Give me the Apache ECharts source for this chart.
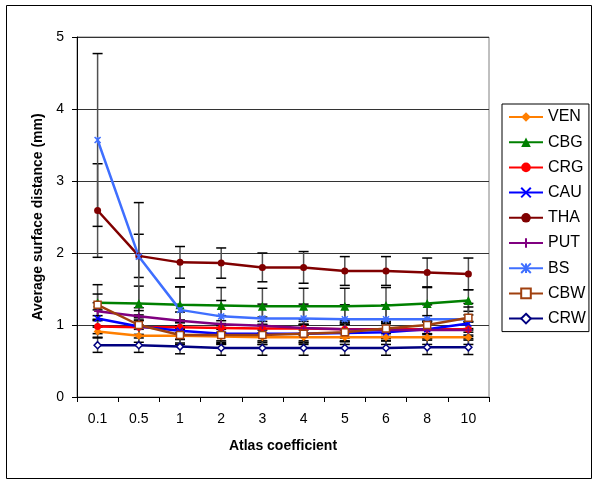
<!DOCTYPE html>
<html><head><meta charset="utf-8">
<script src="https://cdn.jsdelivr.net/npm/echarts@6/dist/echarts.min.js"></script>
<style>html,body{margin:0;padding:0;background:#fff}#c{width:601px;height:488px}</style>
</head><body><div id="c"></div>
<script>
const categories = ['0.1','0.5','1','2','3','4','5','6','8','10'];
const names = ['VEN','CBG','CRG','CAU','THA','PUT','BS','CBW','CRW'];
const VEN = [0.91,0.85,0.85,0.84,0.83,0.83,0.83,0.83,0.83,0.83];
const CBG = [1.31,1.30,1.28,1.27,1.26,1.26,1.26,1.27,1.30,1.34];
const CRG = [0.98,0.97,0.97,0.96,0.95,0.95,0.94,0.94,0.94,0.94];
const CAU = [1.09,0.98,0.92,0.88,0.88,0.88,0.89,0.90,0.94,1.02];
const THA = [2.59,1.96,1.87,1.86,1.80,1.80,1.75,1.75,1.73,1.71];
const PUT = [1.19,1.12,1.06,1.01,0.99,0.96,0.94,0.93,0.93,0.93];
const BS  = [3.57,1.95,1.21,1.12,1.09,1.09,1.08,1.08,1.08,1.08];
const CBW = [1.28,1.00,0.86,0.86,0.86,0.88,0.90,0.95,1.00,1.10];
const CRW = [0.72,0.72,0.70,0.68,0.68,0.68,0.68,0.68,0.69,0.69];
// standard deviations (error bars)
const VEN_sd = [0.08,0.09,0.10,0.10,0.10,0.10,0.10,0.10,0.10,0.10];
const CBG_sd = [0.25,0.24,0.25,0.25,0.25,0.25,0.25,0.25,0.22,0.15];
const CRG_sd = [0.10,0.10,0.10,0.10,0.10,0.10,0.10,0.10,0.10,0.10];
const CAU_sd = [0.12,0.12,0.12,0.12,0.12,0.12,0.12,0.12,0.12,0.12];
const THA_sd = [0.65,0.30,0.22,0.21,0.20,0.22,0.20,0.20,0.20,0.22];
const PUT_sd = [0.12,0.12,0.12,0.12,0.12,0.12,0.12,0.12,0.12,0.12];
const BS_sd  = [1.20,0.75,0.32,0.22,0.20,0.20,0.20,0.20,0.20,0.22];
const CBW_sd = [0.15,0.14,0.13,0.13,0.13,0.13,0.13,0.13,0.13,0.15];
const CRW_sd = [0.10,0.10,0.10,0.10,0.10,0.10,0.10,0.10,0.10,0.10];
const yTicks = [0,1,2,3,4,5];

const values = {VEN,CBG,CRG,CAU,THA,PUT,BS,CBW,CRW};
const sds = {VEN:VEN_sd,CBG:CBG_sd,CRG:CRG_sd,CAU:CAU_sd,THA:THA_sd,PUT:PUT_sd,BS:BS_sd,CBW:CBW_sd,CRW:CRW_sd};
const styles = {
  VEN:{color:'#FF7F00',symbol:'diamond',size:8,hollow:false},
  CBG:{color:'#008000',symbol:'triangle',size:9,hollow:false},
  CRG:{color:'#FF0000',symbol:'circle',size:7,hollow:false},
  CAU:{color:'#0000FF',symbol:'path://M0,0L10,10M10,0L0,10',size:6,hollow:'stroke'},
  THA:{color:'#800000',symbol:'circle',size:7,hollow:false},
  PUT:{color:'#800080',symbol:'path://M5,0L5,10M0,5L10,5',size:7,hollow:'stroke'},
  BS:{color:'#3F6FFF',symbol:'path://M0,0L10,10M10,0L0,10M5,0L5,10',size:6,hollow:'stroke'},
  CBW:{color:'#A0400F',symbol:'rect',size:7,hollow:true},
  CRW:{color:'#000080',symbol:'diamond',size:7,hollow:true}
};

const series = [];
names.forEach(n => {
  const errData = values[n].map((v,i)=>[i, v - sds[n][i], v + sds[n][i]]);
  series.push({
    type:'custom', name:n+'_err', data:errData, z:3, silent:true,
    renderItem:(params, api)=>{
      const x = api.coord([api.value(0), 0])[0];
      const lo = api.coord([api.value(0), api.value(1)])[1];
      const hi = api.coord([api.value(0), api.value(2)])[1];
      const w = 5;
      return {type:'group', children:[
        {type:'line', shape:{x1:x,y1:lo,x2:x,y2:hi}, style:{stroke:'#505050',lineWidth:1.5}},
        {type:'line', shape:{x1:x-w,y1:lo,x2:x+w,y2:lo}, style:{stroke:'#000',lineWidth:1.5}},
        {type:'line', shape:{x1:x-w,y1:hi,x2:x+w,y2:hi}, style:{stroke:'#000',lineWidth:1.5}}
      ]};
    }
  });
});
names.forEach(n => {
  const s = styles[n];
  let itemStyle;
  if (s.hollow === true) itemStyle = {color:'#fff', borderColor:s.color, borderWidth:1.5};
  else if (s.hollow === 'stroke') itemStyle = {color:s.color, borderColor:s.color, borderWidth:1.5};
  else itemStyle = {color:s.color};
  series.push({
    type:'line', name:n, data:values[n], symbol:s.symbol, symbolSize:s.size,
    showSymbol:true, z:4, animation:false,
    lineStyle:{color:s.color, width:2.5}, itemStyle:itemStyle
  });
});

const chart = echarts.init(document.getElementById('c'), null, {renderer:'canvas'});
chart.setOption({
  animation:false,
  backgroundColor:'#fff',
  textStyle:{fontFamily:'Liberation Sans, Arial, sans-serif'},
  graphic:[{type:'rect', shape:{x:6.5,y:5.5,width:585,height:473}, style:{fill:'none',stroke:'#000',lineWidth:1}, z:-1}],
  grid:{left:77, top:37, right:112, bottom:91, show:true, borderColor:'#808080', borderWidth:1, backgroundColor:'transparent'},
  legend:{
    data:names, orient:'vertical', left:502, top:104,
    padding:[4,3,4,6], itemGap:7.2, itemWidth:34, itemHeight:12,
    borderColor:'#000', borderWidth:1, backgroundColor:'#fff',
    textStyle:{fontSize:16, color:'#000', lineHeight:18, fontFamily:'Liberation Sans, Arial, sans-serif'}
  },
  xAxis:{
    type:'category', data:categories, boundaryGap:true,
    name:'Atlas coefficient', nameLocation:'middle', nameGap:42,
    nameTextStyle:{fontSize:14, fontWeight:'bold', color:'#000'},
    axisLine:{lineStyle:{color:'#000',width:1}},
    axisTick:{show:true, inside:false, length:5, alignWithLabel:false, interval:0, lineStyle:{color:'#000'}},
    axisLabel:{fontSize:14, color:'#000', margin:15, interval:0},
    splitLine:{show:false}
  },
  yAxis:{
    type:'value', min:yTicks[0], max:yTicks[yTicks.length-1], interval:1,
    name:'Average surface distance (mm)', nameLocation:'middle', nameGap:30,
    nameTextStyle:{fontSize:14, fontWeight:'bold', color:'#000'},
    axisLine:{show:true, lineStyle:{color:'#000',width:1}},
    axisTick:{show:true, inside:false, length:5, lineStyle:{color:'#000'}},
    axisLabel:{fontSize:14, color:'#000', margin:13},
    splitLine:{show:true, lineStyle:{color:'#333', width:1}}
  },
  series:series
});
</script></body></html>
